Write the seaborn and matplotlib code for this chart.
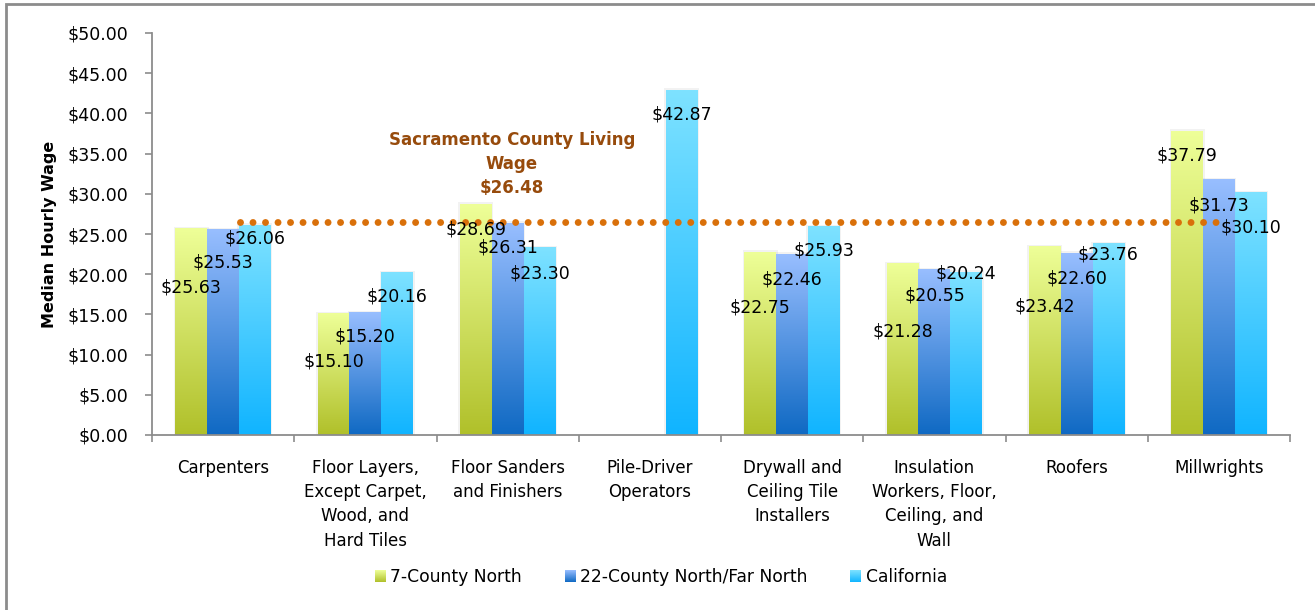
import numpy as np
import pandas as pd
import seaborn as sns
import matplotlib
matplotlib.use("Agg")
import matplotlib.pyplot as plt
from matplotlib.colors import LinearSegmentedColormap
from matplotlib.legend_handler import HandlerBase
from matplotlib.patches import Rectangle

# ---------------- data ----------------
categories = [
    "Carpenters",
    "Floor Layers,\nExcept Carpet,\nWood, and\nHard Tiles",
    "Floor Sanders\nand Finishers",
    "Pile-Driver\nOperators",
    "Drywall and\nCeiling Tile\nInstallers",
    "Insulation\nWorkers, Floor,\nCeiling, and\nWall",
    "Roofers",
    "Millwrights",
]
regions = ["7-County North", "22-County North/Far North", "California"]
north7 = [25.63, 15.10, 28.69, np.nan, 22.75, 21.28, 23.42, 37.79]
north22 = [25.53, 15.20, 26.31, np.nan, 22.46, 20.55, 22.60, 31.73]
california = [26.06, 20.16, 23.30, 42.87, 25.93, 20.24, 23.76, 30.10]
living_wage = 26.48
yticks = [0, 5, 10, 15, 20, 25, 30, 35, 40, 45, 50]

# label vertical positions (data units), as placed in the original
label_y_north7 = [18.3, 9.1, 25.6, np.nan, 15.8, 12.9, 16.0, 34.8]
label_y_north22 = [21.4, 12.2, 23.3, np.nan, 19.4, 17.4, 19.5, 28.6]
label_y_cal = [24.4, 17.2, 20.1, 39.9, 22.9, 20.1, 22.4, 25.8]

# ---------------- styles ----------------
grad = {
    "7-County North": ("#B0C02A", "#EEFF98"),
    "22-County North/Far North": ("#0F69C3", "#98BEFF"),
    "California": ("#10B4FF", "#7EE2FF"),
}
series = {"7-County North": north7, "22-County North/Far North": north22, "California": california}
label_ys = {"7-County North": label_y_north7, "22-County North/Far North": label_y_north22,
            "California": label_y_cal}

rows = []
for r in regions:
    for c, v in zip(categories, series[r]):
        if not np.isnan(v):
            rows.append({"Occupation": c, "Region": r, "Wage": v})
df = pd.DataFrame(rows)

sns.set_theme(style="white")
plt.rcParams["font.family"] = ["DejaVu Sans"]
plt.rcParams["text.color"] = "black"
plt.rcParams["axes.labelcolor"] = "black"

W, H = 1315, 610
fig = plt.figure(figsize=(W / 100, H / 100), dpi=100)
ax = fig.add_axes([152 / W, (H - 435) / H, (1290 - 152) / W, (435 - 33) / H])

mid_colors = [grad[r][1] for r in regions]
sns.barplot(data=df, x="Occupation", y="Wage", hue="Region", order=categories,
            hue_order=regions, palette=mid_colors, width=0.67, saturation=1,
            errorbar=None, legend=False, ax=ax)

ax.set_xlim(-0.5, 7.5)
ax.set_ylim(0, 50)

for k, cont in enumerate(ax.containers):
    r = regions[k]
    cmap = LinearSegmentedColormap.from_list(r, [grad[r][0], grad[r][1]])
    for bar in cont:
        h = bar.get_height()
        if h is None or np.isnan(h) or h <= 0:
            continue
        x0 = bar.get_x()
        w = bar.get_width()
        # faint shadow
        ax.add_patch(Rectangle((x0 - 0.012, 0), w + 0.024, h + 0.25, facecolor="#000000",
                               alpha=0.05, lw=0, zorder=1.5))
        img = np.linspace(0, 1, 256).reshape(-1, 1)
        ax.imshow(img, extent=[x0, x0 + w, 0, h], origin="lower", aspect="auto",
                  cmap=cmap, zorder=2, interpolation="bilinear")
        bar.set_visible(False)
        ci = int(round(x0 + w / 2))
        ly = label_ys[r][ci]
        ax.text(x0 + w / 2, ly, f"${h:.2f}", ha="center", va="center",
                fontsize=12.5, color="black", zorder=5)

ax.set_xlim(-0.5, 7.5)
ax.set_ylim(0, 50)

# living wage line
ax.plot([0.12, 6.99], [living_wage, living_wage], color="#D9700A", lw=5,
        linestyle=(0, (0.001, 1.8)), dash_capstyle="round", zorder=4)
ax.text(2.03, 33.7, f"Sacramento County Living\nWage\n${living_wage:.2f}",
        ha="center", va="center", fontsize=12, fontweight="bold", color="#974B0C",
        linespacing=1.45, zorder=5)

# axes styling
for s in ["top", "right"]:
    ax.spines[s].set_visible(False)
for s in ["left", "bottom"]:
    ax.spines[s].set_color("#8C8C8C")
    ax.spines[s].set_linewidth(1.3)

ax.set_yticks(yticks)
ax.set_yticklabels([f"${v:.2f}" for v in yticks], fontsize=12.5)
ax.tick_params(axis="y", which="major", direction="out", length=5, width=1.2,
               color="#8C8C8C", labelcolor="black", pad=12, left=True)
ax.set_xticks(range(len(categories)))
ax.set_xticklabels(categories, fontsize=12, linespacing=1.45)
ax.tick_params(axis="x", which="major", length=0, pad=17, labelcolor="black")
ax.set_xticks(np.arange(-0.5, 8.0, 1.0), minor=True)
ax.tick_params(axis="x", which="minor", direction="out", length=5, width=1.2,
               color="#8C8C8C", bottom=True)
for t in ax.get_xticklabels():
    t.set_verticalalignment("top")
ax.set_xlabel("")
ax.set_ylabel("Median Hourly Wage", fontsize=11.5, fontweight="bold", labelpad=8,
              color="black")
ax.grid(False)


# gradient legend
class HandlerGradient(HandlerBase):
    def create_artists(self, legend, orig_handle, xdescent, ydescent, width, height,
                       fontsize, trans):
        lo, hi = orig_handle.grad
        cmap = LinearSegmentedColormap.from_list("g", [lo, hi])
        n = 12
        arts = []
        for i in range(n):
            arts.append(Rectangle((-xdescent, -ydescent + height * i / n), width,
                                  height / n + 0.05, facecolor=cmap((i + 0.5) / n),
                                  lw=0, transform=trans))
        return arts


handles = []
for r in regions:
    hnd = Rectangle((0, 0), 1, 1)
    hnd.grad = grad[r]
    handles.append(hnd)

leg = fig.legend(handles, regions, loc="center", bbox_to_anchor=(661 / W, 1 - 577 / H),
                 ncol=3, frameon=False, fontsize=12.3, handlelength=0.65, handleheight=0.65,
                 handletextpad=0.25, columnspacing=2.5,
                 handler_map={Rectangle: HandlerGradient()})
for t in leg.get_texts():
    t.set_color("black")

# outer frame (left and top visible)
fig.add_artist(Rectangle((5.5 / W, -0.05), 1.2, 1.05 - 4.5 / H, transform=fig.transFigure,
                         fill=False, edgecolor="#8C8C8C", lw=2.0))

fig.savefig("out.png", dpi=100, facecolor="white")
